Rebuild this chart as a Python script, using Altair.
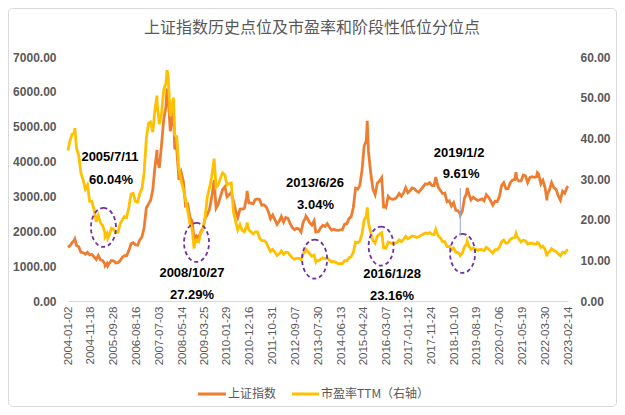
import calendar
import altair as alt
import pandas as pd

TITLE = "上证指数历史点位及市盈率和阶段性低位分位点"
SERIES = ["上证指数", "市盈率TTM（右轴）"]
COLORS = ["#ED7D31", "#FFC000"]

tick_dates = ["2004-01-02", "2004-11-18", "2005-09-28", "2006-08-16", "2007-07-03",
              "2008-05-14", "2009-03-25", "2010-01-29", "2010-12-16", "2011-10-31",
              "2012-09-07", "2013-07-30", "2014-06-13", "2015-04-24", "2016-03-07",
              "2017-01-12", "2017-11-24", "2018-10-10", "2019-08-19", "2020-07-06",
              "2021-05-19", "2022-03-30", "2023-02-14"]
left_ticks = [0, 1000, 2000, 3000, 4000, 5000, 6000, 7000]
right_ticks = [0, 10, 20, 30, 40, 50, 60]

# month-end readings, Jan 2004 .. Jan 2023
sse_month_end = [
    1590, 1675, 1742, 1595, 1555, 1400, 1386, 1342, 1396, 1320, 1340, 1266,
    1191, 1306, 1181, 1159, 1060, 1080, 1083, 1162, 1155, 1092, 1099, 1161,
    1258, 1299, 1298, 1440, 1642, 1672, 1612, 1601, 1752, 1837, 2099, 2675,
    2786, 2881, 3183, 3841, 4109, 3820, 4471, 5218, 5552, 5954, 4871, 5262,
    4383, 4348, 3473, 3693, 3433, 2736, 2775, 2397, 2293, 1729, 1871, 1821,
    1991, 2082, 2373, 2477, 2633, 2959, 3412, 2667, 2779, 2996, 3195, 3277,
    2989, 3051, 3109, 2870, 2592, 2398, 2638, 2639, 2656, 2979, 2820, 2808,
    2790, 2905, 2928, 2911, 2743, 2762, 2701, 2567, 2359, 2468, 2333, 2199,
    2292, 2428, 2262, 2397, 2372, 2225, 2103, 2047, 2086, 2069, 1980, 2269,
    2385, 2365, 2237, 2178, 2301, 1979, 1994, 2098, 2175, 2141, 2220, 2116,
    2033, 2056, 2033, 2026, 2039, 2048, 2201, 2217, 2364, 2420, 2683, 3235,
    3210, 3310, 3748, 4441, 4612, 4277, 3664, 3206, 3053, 3383, 3445, 3539,
    2738, 2688, 3004, 2938, 2917, 2930, 2979, 3085, 3005, 3100, 3250, 3104,
    3159, 3242, 3223, 3155, 3117, 3192, 3273, 3361, 3349, 3393, 3317, 3307,
    3481, 3259, 3169, 3082, 3095, 2847, 2876, 2725, 2821, 2603, 2588, 2494,
    2585, 2941, 3091, 3078, 2899, 2979, 2933, 2886, 2905, 2929, 2872, 3050,
    2977, 2880, 2750, 2860, 2852, 2985, 3310, 3396, 3218, 3225, 3392, 3473,
    3483, 3509, 3442, 3447, 3615, 3591, 3397, 3544, 3568, 3547, 3564, 3640,
    3361, 3462, 3252, 3047, 3186, 3399, 3253, 3202, 3024, 2893, 3151, 3089,
    3255,
]
pe_month_end = [
    39.5, 41.0, 41.3, 37.5, 35.8, 31.5, 29.8, 27.5, 28.5, 24.5, 24.5, 22.5,
    19.5, 21.0, 19.2, 18.6, 16.8, 16.6, 16.2, 17.9, 17.6, 16.8, 16.9, 19.0,
    20.0, 20.8, 20.6, 23.0, 26.3, 26.5, 24.5, 24.3, 26.4, 27.6, 31.5, 40.0,
    43.7, 44.0, 41.5, 47.0, 48.5, 43.5, 46.0, 52.0, 53.5, 55.5, 45.5, 48.5,
    40.8, 40.4, 32.3, 29.5, 27.5, 25.0, 22.2, 19.0, 17.8, 13.8, 15.0, 14.6,
    16.8, 17.5, 20.5, 25.5, 27.8, 30.5, 34.5, 28.0, 28.5, 30.2, 31.5, 31.0,
    28.5, 28.8, 29.0, 22.0, 19.5, 17.5, 18.8, 17.3, 17.0, 18.5, 17.5, 17.0,
    16.5, 17.0, 17.0, 15.5, 14.8, 14.9, 14.5, 13.2, 12.2, 12.7, 12.0, 11.2,
    11.6, 12.3, 11.5, 12.0, 11.9, 11.2, 10.6, 10.3, 10.5, 10.5, 10.1, 11.6,
    12.2, 12.3, 11.6, 11.0, 11.3, 9.9, 9.9, 10.3, 10.6, 10.4, 10.6, 10.1,
    9.6, 9.7, 9.5, 9.2, 9.2, 9.2, 9.9, 9.9, 10.6, 10.9, 12.0, 14.5,
    14.3, 14.7, 16.5, 20.0, 20.8, 19.2, 16.8, 14.8, 14.2, 15.9, 16.4, 16.8,
    13.2, 13.0, 14.5, 14.3, 14.1, 14.2, 14.4, 15.0, 14.6, 15.1, 15.9, 15.3,
    15.6, 16.0, 15.9, 15.6, 15.8, 16.2, 16.4, 16.7, 16.6, 16.8, 16.4, 16.3,
    17.2, 16.0, 15.5, 14.6, 14.6, 13.4, 13.4, 12.6, 13.0, 12.0, 11.9, 11.4,
    11.8, 13.3, 14.0, 13.6, 12.7, 13.0, 12.8, 12.5, 12.6, 12.6, 12.4, 13.2,
    12.8, 12.3, 11.8, 12.6, 12.6, 13.2, 14.6, 15.0, 14.2, 14.3, 15.1, 15.5,
    15.6, 16.0, 15.2, 14.5, 15.0, 14.8, 14.0, 14.2, 14.2, 14.0, 14.0, 14.2,
    13.2, 13.5, 12.7, 11.6, 12.1, 12.9, 12.4, 12.2, 11.6, 11.1, 12.0, 11.8,
    12.5,
]

# intra-month highs and lows
extra_dates = ["2004-01-02", "2004-04-07", "2005-06-03", "2005-07-11", "2007-05-29",
               "2007-10-16", "2008-01-14", "2008-10-28", "2009-08-04", "2010-11-08",
               "2013-02-06", "2013-06-25", "2015-06-12", "2016-01-28", "2018-01-24",
               "2019-01-03", "2019-04-08", "2021-02-18", "2021-12-13", "2022-04-26",
               "2023-02-14"]
extra_sse = [1540, 1777, 1013, 1011, 4334, 6092, 5497, 1772, 3471, 3159,
             2434, 1951, 5166, 2656, 3559, 2464, 3245, 3696, 3681, 2886, 3293]
extra_pe = [37.0, 42.5, 15.8, 15.4, 50.5, 56.8, 50.0, 12.9, 35.0, 19.3,
            12.7, 9.7, 23.0, 12.8, 17.6, 11.2, 14.7, 16.6, 14.4, 11.0, 12.6]

# dashed ellipses around stage lows (date, PE)
ellipse_dates = ["2005-05-11", "2008-12-01", "2013-06-07", "2015-12-23", "2019-02-03"]
ellipse_pe = [18.1, 14.4, 10.3, 13.5, 11.7]

# annotation labels (date, PE-axis position, text)
ann_dates = ["2005-08-10", "2005-08-24", "2008-09-28", "2008-09-28", "2013-06-13",
             "2013-06-20", "2016-05-24", "2016-05-24", "2018-12-16", "2019-01-13"]
ann_pe = [35.3, 29.75, 6.8, 1.45, 28.9, 23.6, 6.6, 1.3, 36.3, 31.2]
ann_text = ["2005/7/11", "60.04%", "2008/10/27", "27.29%", "2013/6/26",
            "3.04%", "2016/1/28", "23.16%", "2019/1/2", "9.61%"]

leader_date = ["2019-01-02"]
leader_top = [27.8]
leader_bottom = [16.2]

# ---------------------------------------------------------------------------
month_dates = []
for i in range(len(sse_month_end)):
    yr = 2004 + i // 12
    mo = i % 12 + 1
    month_dates.append(f"{yr}-{mo:02d}-{calendar.monthrange(yr, mo)[1]:02d}")

df = pd.DataFrame({
    "date": month_dates + extra_dates,
    "sse": sse_month_end + extra_sse,
    "pe": pe_month_end + extra_pe,
})
df["date"] = pd.to_datetime(df["date"])
df = df.sort_values("date").reset_index(drop=True)

ell_df = pd.DataFrame({"date": pd.to_datetime(ellipse_dates), "pe": ellipse_pe})
ann_df = pd.DataFrame({"date": pd.to_datetime(ann_dates), "pe": ann_pe, "label": ann_text})
lead_df = pd.DataFrame({"date": pd.to_datetime(leader_date), "pe": leader_top,
                        "bottom": leader_bottom})


def dt(s):
    y, m, d = map(int, s.split("-"))
    return alt.DateTime(year=y, month=m, date=d)


W, H = 500, 244
x_scale = alt.Scale(domain=[dt(tick_dates[0]), dt(tick_dates[-1])], nice=False)
left_scale = alt.Scale(domain=[0, 7000], nice=False)
right_scale = alt.Scale(domain=[0, 60], nice=False)

x_axis = alt.Axis(values=[dt(s) for s in tick_dates], format="%Y-%m-%d", labelAngle=270,
                  labelFont="Liberation Sans", labelFontSize=11.5, labelColor="#595959",
                  labelPadding=5, labelOverlap=False, labelFlush=False, ticks=False,
                  domain=True, domainColor="#D9D9D9", domainWidth=1, grid=False,
                  title=None)
left_axis = alt.Axis(orient="left", values=left_ticks, format=".2f",
                     labelFont="Liberation Sans", labelFontSize=12, labelFontWeight="bold",
                     labelColor="#595959", labelPadding=12, ticks=False, domain=False,
                     grid=False, title=None)
right_axis = alt.Axis(orient="right", values=right_ticks, format=".2f",
                      labelFont="Liberation Sans", labelFontSize=12, labelFontWeight="bold",
                      labelColor="#595959", labelPadding=12, ticks=False, domain=False,
                      grid=False, title=None)

X = alt.X("date:T", scale=x_scale, axis=x_axis)
Y_PE = alt.Y("pe:Q", scale=right_scale, axis=right_axis)

base = alt.Chart(df)

sse_line = base.mark_line(color=COLORS[0], strokeWidth=2.8).encode(
    x=X,
    y=alt.Y("sse:Q", scale=left_scale, axis=left_axis),
)

pe_line = base.mark_line(color=COLORS[1], strokeWidth=2.8).encode(x=X, y=Y_PE)

ELLIPSE = ("M0,-1 C0.354,-1 0.641,-0.552 0.641,0 C0.641,0.552 0.354,1 0,1 "
           "C-0.354,1 -0.641,0.552 -0.641,0 C-0.641,-0.552 -0.354,-1 0,-1 Z")
ellipses = alt.Chart(ell_df).mark_point(
    shape=ELLIPSE, size=1521, filled=False, stroke="#7030A0", strokeWidth=1.8,
    strokeDash=[4, 3], opacity=1,
).encode(x=X, y=Y_PE)

leader = alt.Chart(lead_df).mark_rule(color="#8FAADC", strokeWidth=1).encode(
    x=X, y=Y_PE, y2="bottom:Q",
)

labels = alt.Chart(ann_df).mark_text(
    font="Liberation Sans", fontSize=13, fontWeight="bold", color="#000000",
    align="center", baseline="middle",
).encode(x=X, y=Y_PE, text="label:N")

right_group = alt.layer(pe_line, ellipses, leader, labels)

deco = alt.Chart(pd.DataFrame({"title": [TITLE], "s0": [SERIES[0]], "s1": [SERIES[1]]}))

title_mark = deco.mark_text(font="Noto Sans CJK SC", fontSize=16, color="#595959",
                            align="center", baseline="middle").encode(
    x=alt.value(244), y=alt.value(-29), text="title:N")

LEG_Y = 337
leg_line0 = deco.mark_rule(color=COLORS[0], strokeWidth=3).encode(
    x=alt.value(130), x2=alt.value(158), y=alt.value(LEG_Y))
leg_text0 = deco.mark_text(font="Noto Sans CJK SC", fontSize=12, color="#595959",
                           align="left", baseline="middle").encode(
    x=alt.value(160), y=alt.value(LEG_Y), text="s0:N")
leg_line1 = deco.mark_rule(color=COLORS[1], strokeWidth=3).encode(
    x=alt.value(224), x2=alt.value(251), y=alt.value(LEG_Y))
leg_text1 = deco.mark_text(font="Noto Sans CJK SC", fontSize=12, color="#595959",
                           align="left", baseline="middle").encode(
    x=alt.value(253), y=alt.value(LEG_Y), text="s1:N")

border = deco.mark_rect(fillOpacity=0, stroke="#D9D9D9", strokeWidth=1, cornerRadius=4).encode(
    x=alt.value(-59.5), x2=alt.value(548.5), y=alt.value(-48.5), y2=alt.value(349.5))

chart = alt.layer(
    border, sse_line, right_group, title_mark, leg_line0, leg_text0, leg_line1, leg_text1
).resolve_scale(y="independent").properties(
    width=W, height=H,
    autosize=alt.AutoSizeParams(type="none"),
    padding={"left": 60, "top": 49, "right": 49, "bottom": 106},
    background="white",
).configure_view(stroke="transparent")

chart.save("out.html", embed_options={"renderer": "svg", "actions": False})
